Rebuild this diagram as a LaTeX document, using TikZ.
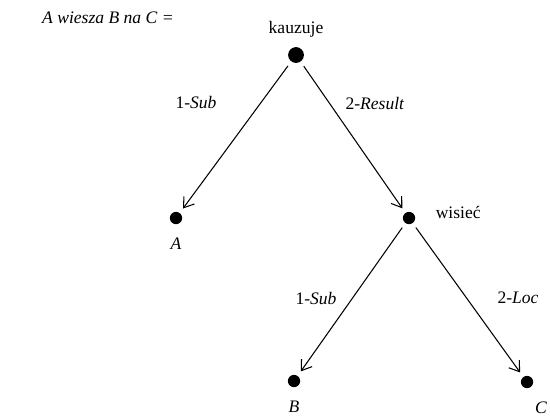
\documentclass[tikz,border=0pt]{standalone}
\usepackage{fontspec}
\setmainfont{Liberation Serif}
\usetikzlibrary{arrows.meta,positioning}
\tikzset{
  dot/.style   = {circle, fill=black, inner sep=0pt, minimum size=7pt},
  bigdot/.style= {dot, minimum size=9pt},
  ar/.style    = {-{Straight Barb[length=1.9mm,width=2.6mm]}, line width=0.6pt,
                  shorten <=3pt, shorten >=3pt},
  lbl/.style   = {font=\normalsize},
  arg/.style   = {font=\normalsize\itshape},
}

\begin{document}
\begin{tikzpicture}[x=0.02cm, y=-0.02cm]
    \useasboundingbox (0,0) rectangle (550,416);

    \node[arg, anchor=west] (title) at (36,18) {A wiesza B na C =};

    % tree nodes
    \node[bigdot] (kauz) at (296,55) {};
    \node[dot]    (a)    at (176,218) {};
    \node[dot]    (wis)  at (409,218) {};
    \node[dot]    (b)    at (294,381) {};
    \node[dot]    (c)    at (527,382) {};

    \node[lbl, above=2pt of kauz]        {kauzuje};
    \node[lbl, right=8pt of wis, yshift=3pt] {wisieć};
    \node[arg, below=4pt of a]           {A};
    \node[arg, below=4pt of b]           {B};
    \node[arg, below=4pt of c, xshift=8pt] {C};

    \draw[ar] (kauz) -- (a);
    \draw[ar] (kauz) -- (wis);
    \draw[ar] (wis) -- (b);
    \draw[ar] (wis) -- (c);

    \node[lbl] at (196,103) {1-\textit{Sub}};
    \node[lbl] at (375,104) {2-\textit{Result}};
    \node[lbl] at (316,298) {1-\textit{Sub}};
    \node[lbl] at (518,298) {2-\textit{Loc}};
  \end{tikzpicture}
\end{document}
